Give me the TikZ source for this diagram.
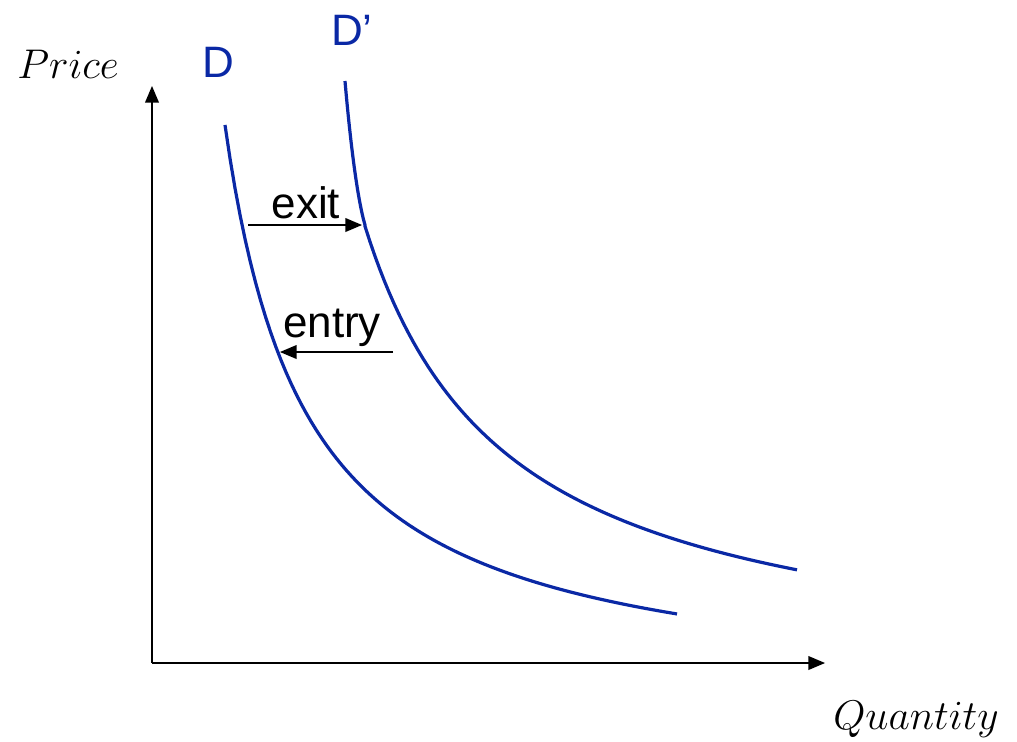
\documentclass[tikz,border=0pt]{standalone}
\usepackage{fontspec}
\setmainfont{Liberation Sans}
\definecolor{CurveBlue}{RGB}{10, 40, 165}
\usetikzlibrary{arrows, positioning}

\begin{document}
\begin{tikzpicture}[x=0.5pt, y=-0.5pt]
        \tikzstyle{axis} = [draw, -triangle 45, line width=0.9pt]
        \tikzstyle{curve} = [draw=CurveBlue, line width=1.6pt]
        \tikzstyle{movearrow} = [draw, -triangle 45, line width=0.9pt]
        \tikzstyle{lbl} = [font=\fontsize{22}{26}\selectfont, inner sep=0pt]

        \useasboundingbox (0,0) rectangle (1017,741);

        % axes
        \coordinate (origin) at (152,663);
        \coordinate (ytop) at (152,86);
        \coordinate (xend) at (825,663);
        \path [axis] (origin) -- (ytop);
        \path [axis] (origin) -- (xend);
        \node [lbl] (price) at (68,64) {$Price$};
        \node [lbl] (quantity) at (916,719) {$Quantity$};

        % demand curves
        \path [curve] plot [domain=225:677, samples=90] (\x, {702 - 469.7/((\x-143.6)/100)});
        \path [curve] (345,81) .. controls (351,150) and (358,201) .. (365,225)
            -- plot [domain=365:797, samples=90] (\x, {683 - 650/((\x-222.7)/100)});
        \node [lbl, text=CurveBlue] (d) at (218,62) {D};
        \node [lbl, text=CurveBlue] (dprime) at (352,30) {D’};

        % shifts
        \coordinate (exitstart) at (248,225);
        \coordinate (exitend) at (362,225);
        \coordinate (entrystart) at (393,352);
        \coordinate (entryend) at (280,352);
        \path [movearrow] (exitstart) -- (exitend);
        \path [movearrow] (entrystart) -- (entryend);
        \node [lbl] (exit) at (306,203) {exit};
        \node [lbl] (entry) at (332,328) {entry};
    \end{tikzpicture}
\end{document}
